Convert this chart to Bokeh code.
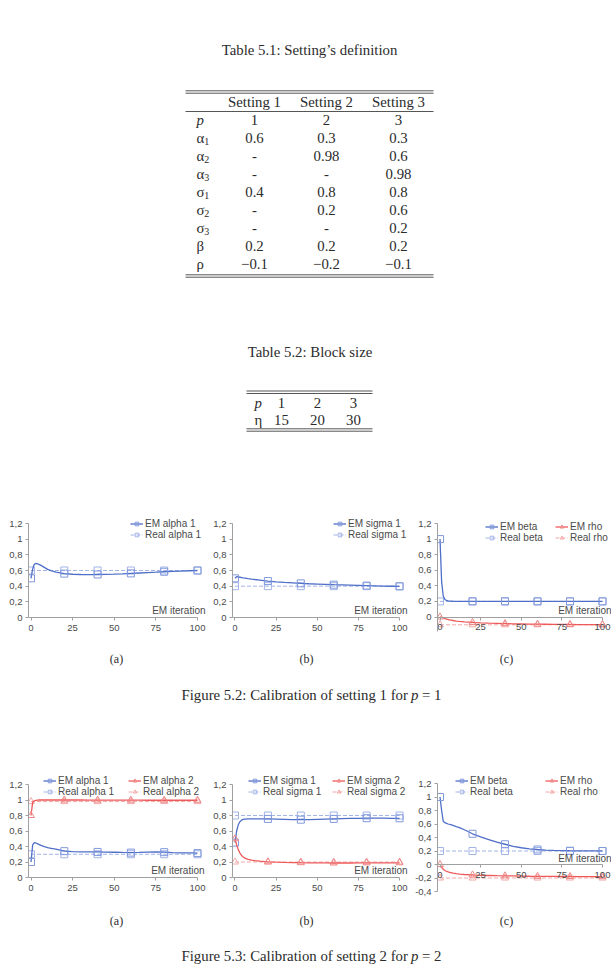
from bokeh.plotting import figure
from bokeh.models import (Range1d, FixedTicker, CustomJSTickFormatter, Legend, LegendItem,
                          Label, LinearAxis, Grid)
from bokeh.layouts import column, row
from bokeh.embed import file_html
from bokeh.resources import INLINE
from bokeh.core.properties import value

# ---------------- data ----------------
# Table 5.1
settings = ["Setting 1", "Setting 2", "Setting 3"]
param_symbols = ["p", "α", "α", "α", "σ", "σ", "σ", "β", "ρ"]
param_subscripts = ["", "1", "2", "3", "1", "2", "3", "", ""]
setting1 = ["1", "0.6", "-", "-", "0.4", "-", "-", "0.2", "−0.1"]
setting2 = ["2", "0.3", "0.98", "-", "0.8", "0.2", "-", "0.2", "−0.2"]
setting3 = ["3", "0.3", "0.6", "0.98", "0.8", "0.6", "0.2", "0.2", "−0.1"]

# Table 5.2
block_p = ["1", "2", "3"]
block_eta = ["15", "20", "30"]

# Charts
x_ticks = [0, 25, 50, 75, 100]
y_ticks = [-0.4, -0.2, 0.0, 0.2, 0.4, 0.6, 0.8, 1.0, 1.2]
em_x = [0, 1, 2, 3, 4, 5, 6, 8, 10, 12, 15, 20, 25, 30, 35, 40, 45, 50, 55, 60, 65, 70, 75, 80, 85, 90, 95, 100]
real_x = [0, 20, 40, 60, 80, 100]

s1_em_alpha1 = [0.50, 0.62, 0.68, 0.69, 0.685, 0.675, 0.665, 0.64, 0.615, 0.598, 0.578,
                0.560, 0.552, 0.549, 0.548, 0.549, 0.551, 0.554, 0.558, 0.563, 0.568, 0.573,
                0.578, 0.584, 0.589, 0.593, 0.597, 0.600]
s1_real_alpha1 = [0.6, 0.6, 0.6, 0.6, 0.6, 0.6]
s1_em_sigma1 = [0.50, 0.52, 0.518, 0.514, 0.51, 0.506, 0.503, 0.496, 0.49, 0.485, 0.478,
                0.465, 0.456, 0.448, 0.442, 0.436, 0.431, 0.427, 0.423, 0.419, 0.416, 0.413,
                0.41, 0.407, 0.404, 0.401, 0.399, 0.397]
s1_real_sigma1 = [0.4, 0.4, 0.4, 0.4, 0.4, 0.4]
s1_em_beta = [1.0, 0.45, 0.27, 0.225, 0.212, 0.206, 0.204, 0.202, 0.201, 0.201, 0.201,
              0.201, 0.201, 0.201, 0.201, 0.201, 0.201, 0.201, 0.201, 0.201, 0.201, 0.201,
              0.201, 0.201, 0.201, 0.201, 0.201, 0.201]
s1_real_beta = [0.2, 0.2, 0.2, 0.2, 0.2, 0.2]
s1_em_rho = [0.0, -0.005, -0.012, -0.02, -0.026, -0.032, -0.037, -0.045, -0.052, -0.057, -0.063,
             -0.07, -0.075, -0.079, -0.082, -0.085, -0.087, -0.089, -0.091, -0.092, -0.093,
             -0.094, -0.095, -0.096, -0.097, -0.098, -0.098, -0.099]
s1_real_rho = [-0.1, -0.1, -0.1, -0.1, -0.1, -0.1]

s2_em_alpha1 = [0.20, 0.42, 0.45, 0.445, 0.435, 0.425, 0.415, 0.398, 0.385, 0.377, 0.365,
                0.340, 0.333, 0.331, 0.330, 0.330, 0.328, 0.326, 0.323, 0.321, 0.324, 0.328,
                0.330, 0.327, 0.322, 0.319, 0.317, 0.315]
s2_real_alpha1 = [0.3, 0.3, 0.3, 0.3, 0.3, 0.3]
s2_em_alpha2 = [0.80, 0.97, 0.99, 0.995, 0.998, 1.0, 1.0, 1.0, 1.0, 1.0, 1.0,
                1.0, 1.0, 1.0, 0.999, 0.999, 0.999, 0.998, 0.998, 0.998, 0.998, 0.997,
                0.997, 0.997, 0.997, 0.997, 0.997, 0.997]
s2_real_alpha2 = [0.98, 0.98, 0.98, 0.98, 0.98, 0.98]
s2_em_sigma1 = [0.45, 0.60, 0.68, 0.72, 0.74, 0.75, 0.753, 0.756, 0.757, 0.757, 0.757,
                0.756, 0.754, 0.751, 0.748, 0.746, 0.747, 0.750, 0.753, 0.756, 0.759, 0.762,
                0.764, 0.765, 0.765, 0.765, 0.764, 0.764]
s2_real_sigma1 = [0.8, 0.8, 0.8, 0.8, 0.8, 0.8]
s2_em_sigma2 = [0.50, 0.42, 0.36, 0.315, 0.285, 0.265, 0.25, 0.235, 0.225, 0.218, 0.21,
                0.202, 0.198, 0.195, 0.193, 0.191, 0.19, 0.189, 0.188, 0.187, 0.187, 0.187,
                0.188, 0.189, 0.19, 0.19, 0.19, 0.19]
s2_real_sigma2 = [0.2, 0.2, 0.2, 0.2, 0.2, 0.2]
s2_em_beta = [1.0, 0.80, 0.64, 0.62, 0.61, 0.60, 0.593, 0.578, 0.562, 0.547, 0.515,
              0.455, 0.41, 0.37, 0.33, 0.30, 0.27, 0.248, 0.232, 0.222, 0.214, 0.209,
              0.206, 0.204, 0.203, 0.202, 0.201, 0.2]
s2_real_beta = [0.2, 0.2, 0.2, 0.2, 0.2, 0.2]
s2_em_rho = [0.0, -0.04, -0.07, -0.09, -0.10, -0.11, -0.117, -0.128, -0.136, -0.142, -0.148,
             -0.155, -0.16, -0.163, -0.166, -0.168, -0.17, -0.172, -0.174, -0.175, -0.176,
             -0.177, -0.178, -0.178, -0.179, -0.179, -0.18, -0.18]
s2_real_rho = [-0.2, -0.2, -0.2, -0.2, -0.2, -0.2]

sub_labels = ["(a)", "(b)", "(c)"]
caption_52 = ["Figure 5.2: Calibration of setting 1 for", "p", "= 1"]
caption_53 = ["Figure 5.3: Calibration of setting 2 for", "p", "= 2"]

# ---------------- style ----------------
SERIF = "Liberation Serif"
SANS = "Liberation Sans"
TXT = "#2b2b2b"
AX = "#a0a0a0"
LBL = "#4a4a4a"
BLUE = "#4f6fc8"
BLUE_M = "#8299dc"
BLUE_L = "#a3b4e6"
RED = "#ee5a5a"
RED_M = "#f08a8a"
RED_L = "#f4a9a9"
FS = "14.8px"


def blank(width, height):
    p = figure(width=width, height=height, x_range=Range1d(0, width), y_range=Range1d(height, 0),
               output_backend="svg", toolbar_location=None, x_axis_location=None,
               y_axis_location=None, min_border=0)
    p.outline_line_color = None
    for r in p.center:
        if isinstance(r, Grid):
            r.visible = False
    return p


def put(p, xs, ys, texts, size=FS, align="center", style="normal", font=SERIF, color=TXT):
    p.text(x=xs, y=ys, text=texts, text_font=value(font), text_font_size=size,
           text_font_style=style, text_align=align, text_baseline="middle", text_color=color)


def rules(p, x0, x1, ys):
    p.segment(x0=[x0] * len(ys), x1=[x1] * len(ys), y0=ys, y1=ys, line_color=TXT, line_width=0.8)


# ---------------- tables ----------------
top = blank(611, 505)
put(top, [309], [49], ["Table 5.1: Setting’s definition"])
rules(top, 185, 433, [90.3, 92.7, 111, 274.3, 276.7])
col_x = [254, 326, 398]
put(top, col_x, [101] * 3, settings)
row_y = [119 + 18 * k for k in range(len(param_symbols))]
put(top, [196], [row_y[0]], [param_symbols[0]], align="left", style="italic")
put(top, [196] * (len(param_symbols) - 1), row_y[1:], param_symbols[1:], align="left")
sub_idx = [i for i, s in enumerate(param_subscripts) if s]
put(top, [203.8] * len(sub_idx), [row_y[i] + 3.5 for i in sub_idx],
    [param_subscripts[i] for i in sub_idx], size="10px", align="left")
for cx, vals in zip(col_x, [setting1, setting2, setting3]):
    put(top, [cx] * len(vals), row_y, vals)

put(top, [309.5], [351], ["Table 5.2: Block size"])
rules(top, 246, 372, [390.5, 393, 428.3, 430.7])
put(top, [254], [402], ["p"], align="left", style="italic")
put(top, [254], [419], ["η"], align="left")
bx = [281, 317, 353]
put(top, bx, [402] * 3, block_p)
put(top, bx, [419] * 3, block_eta)


# ---------------- charts ----------------
fmt_code = ("var v = Math.round(tick * 10) / 10; var s = v.toString();"
            "if (s === '-0') { s = '0'; } return s.replace('.', ',');")


def make_chart(width, height, L, X0, X100, R, T, Y12, Y0, YB, y_lo, series,
               legend_xy, ncols, label_w, iter_y, iter_dx):
    # pixel geometry -> ranges (frames of a row share top/bottom)
    kx = (X100 - X0) / 100.0
    x_start = -(X0 - L) / kx
    x_end = 100 + (R - X100) / kx
    ky = (Y0 - Y12) / 1.2
    y_start = -(YB - Y0) / ky
    y_end = 1.2 + (Y12 - T) / ky
    p = figure(width=width, height=height, x_range=Range1d(x_start, x_end),
               y_range=Range1d(y_start, y_end), output_backend="svg", toolbar_location=None,
               x_axis_location=None, y_axis_location=None,
               min_border_left=L, min_border_right=width - R,
               min_border_top=T, min_border_bottom=height - YB)
    p.outline_line_color = None
    p.background_fill_color = "white"
    for r in p.center:
        if isinstance(r, Grid):
            r.visible = False
    xa = LinearAxis(fixed_location=0)
    ya = LinearAxis()
    p.add_layout(xa, "below")
    p.add_layout(ya, "left")
    xa.bounds = (x_start, 100)
    ya.bounds = (max(y_lo, y_start), 1.2)
    xa.ticker = FixedTicker(ticks=x_ticks)
    ya.ticker = FixedTicker(ticks=[t for t in y_ticks if y_lo - 1e-9 <= t <= 1.2 + 1e-9])
    ya.formatter = CustomJSTickFormatter(code=fmt_code)
    for ax in (xa, ya):
        ax.axis_line_color = AX
        ax.major_tick_line_color = AX
        ax.minor_tick_line_color = None
        ax.major_tick_in = 0
        ax.major_tick_out = 3
        ax.major_label_text_font = SANS
        ax.major_label_text_font_size = "9.5px"
        ax.major_label_text_color = LBL
    xa.major_label_standoff = 4
    ya.major_label_standoff = 3

    items = {}
    for s in series:
        lr = p.line(s["x"], s["y"], line_color=s["color"], line_width=s["lw"],
                    line_dash=s["dash"])
        mr = p.scatter(s["mx"], s["my"], marker=s["marker"], size=7,
                       line_color=s["mcolor"], fill_color=None, line_width=1)
        items[s["label"]] = LegendItem(label=s["label"], renderers=[lr, mr])
    ems = [s["label"] for s in series if s["em"]]
    reals = [s["label"] for s in series if not s["em"]]
    if ncols == 1:
        ordered = [items[ems[0]], items[reals[0]]]
        leg = Legend(items=ordered, location=legend_xy, orientation="vertical")
    else:
        ordered = [items[l] for l in ems] + [items[l] for l in reals]
        leg = Legend(items=ordered, location=legend_xy, orientation="horizontal", ncols=ncols)
    leg.background_fill_alpha = 0
    leg.border_line_alpha = 0
    leg.padding = 0
    leg.margin = 0
    leg.spacing = 0
    leg.label_text_font = SANS
    leg.label_text_font_size = "10px"
    leg.label_text_color = LBL
    leg.label_text_line_height = 1.0
    leg.glyph_width = 13
    leg.glyph_height = 9
    leg.label_height = 9
    leg.label_standoff = 2
    leg.label_width = label_w
    p.add_layout(leg)

    p.add_layout(Label(x=100, y=iter_y, x_offset=iter_dx, text="EM iteration",
                       text_align="right", text_baseline="middle", text_font=SANS,
                       text_font_size="10px", text_color=LBL))
    return p


def em_series(label, ys, color, mcolor, marker):
    return dict(label=label, x=em_x, y=ys, color=color, mcolor=mcolor, marker=marker,
                dash="solid", lw=1.3, em=True,
                mx=real_x, my=[ys[em_x.index(v)] for v in real_x])


def real_series(label, ys, color, marker):
    return dict(label=label, x=real_x, y=ys, color=color, mcolor=color, marker=marker,
                dash="4 2", lw=1.0, em=False, mx=real_x, my=ys)


# row 1 (figure 5.2): frames share top (8) and bottom (126) inside 146-px figures
c1a = make_chart(210, 146, 28, 30.5, 197, 207, 8, 18, 112, 126, 0,
                 [real_series("Real alpha 1", s1_real_alpha1, BLUE_L, "square"),
                  em_series("EM alpha 1", s1_em_alpha1, BLUE, BLUE_M, "square")],
                 (102, 91), 1, 20, 0.09, 8)
c1b = make_chart(199, 146, 21, 23.5, 189, 198, 8, 18, 112, 126, 0,
                 [real_series("Real sigma 1", s1_real_sigma1, BLUE_L, "square"),
                  em_series("EM sigma 1", s1_em_sigma1, BLUE, BLUE_M, "square")],
                 (101, 91), 1, 20, 0.09, 8)
c1c = make_chart(202, 146, 28, 30.5, 193, 202, 8, 18, 111.5, 126, -0.2,
                 [real_series("Real beta", s1_real_beta, BLUE_L, "square"),
                  real_series("Real rho", s1_real_rho, RED_L, "triangle"),
                  em_series("EM beta", s1_em_beta, BLUE, BLUE_M, "square"),
                  em_series("EM rho", s1_em_rho, RED, RED_M, "triangle")],
                 (48, 88), 2, 55, 0.08, 9)

# row 2 (figure 5.3)
c2a = make_chart(210, 146, 28, 30.5, 197, 207, 9, 19, 112, 126, 0,
                 [real_series("Real alpha 1", s2_real_alpha1, BLUE_L, "square"),
                  real_series("Real alpha 2", s2_real_alpha2, RED_L, "triangle"),
                  em_series("EM alpha 1", s2_em_alpha1, BLUE, BLUE_M, "square"),
                  em_series("EM alpha 2", s2_em_alpha2, RED, RED_M, "triangle")],
                 (15, 94), 2, 70, 0.09, 7)
c2b = make_chart(199, 146, 21, 23.5, 189, 198, 9, 19, 112, 126, 0,
                 [real_series("Real sigma 1", s2_real_sigma1, BLUE_L, "square"),
                  real_series("Real sigma 2", s2_real_sigma2, RED_L, "triangle"),
                  em_series("EM sigma 1", s2_em_sigma1, BLUE, BLUE_M, "square"),
                  em_series("EM sigma 2", s2_em_sigma2, RED, RED_M, "triangle")],
                 (16, 94), 2, 69, 0.09, 8)
c2c = make_chart(202, 146, 28, 30.5, 193, 202, 9, 18, 99, 126, -0.4,
                 [real_series("Real beta", s2_real_beta, BLUE_L, "square"),
                  real_series("Real rho", s2_real_rho, RED_L, "triangle"),
                  em_series("EM beta", s2_em_beta, BLUE, BLUE_M, "square"),
                  em_series("EM rho", s2_em_rho, RED, RED_M, "triangle")],
                 (18, 94), 2, 75, 0.09, 9)


# ---------------- captions ----------------
def caption_fig(height, sub_y, cap_y, cap):
    c = blank(611, height)
    put(c, [116, 306, 506], [sub_y] * 3, sub_labels, size="12px")
    put(c, [181], [cap_y], [cap[0]], align="left")
    put(c, [410.5], [cap_y], [cap[1]], align="left", style="italic")
    put(c, [421.5], [cap_y], [cap[2]], align="left")
    return c


cap1 = caption_fig(114, 7, 43, caption_52)
cap2 = caption_fig(53, 9, 44, caption_53)

layout = column(top, row(c1a, c1b, c1c, spacing=0), cap1, row(c2a, c2b, c2c, spacing=0), cap2,
                spacing=0)

with open("out.html", "w", encoding="utf-8") as f:
    f.write(file_html(layout, INLINE))
